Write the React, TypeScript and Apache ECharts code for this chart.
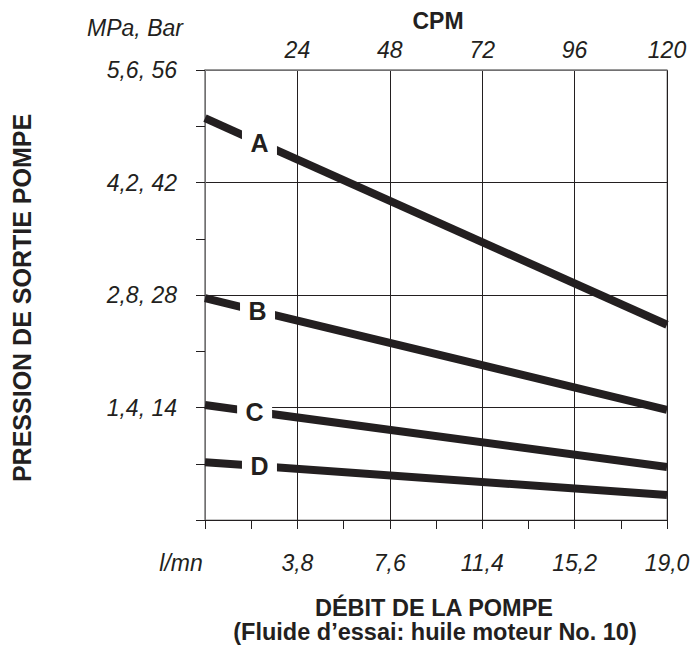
import React, { useEffect, useRef } from "react";
import * as echarts from "echarts";

// Data
const curveNames = ["A", "B", "C", "D"];
const flowRange = [0, 19.0]; // l/mn
const pressureStart = [5.0, 2.76, 1.43, 0.72]; // MPa at 0 l/mn
const pressureEnd = [2.43, 1.37, 0.66, 0.31]; // MPa at 19 l/mn
const labelFlow = [2.24, 2.16, 2.04, 2.24]; // where each letter sits on its curve
const yTickLabels: Record<string, string> = {
  "1.4": "1,4, 14",
  "2.8": "2,8, 28",
  "4.2": "4,2, 42",
  "5.6": "5,6, 56",
};
const xTickLabels: Record<string, string> = {
  "3.8": "3,8",
  "7.6": "7,6",
  "11.4": "11,4",
  "15.2": "15,2",
  "19": "19,0",
};
const cpmTicks = [24, 48, 72, 96, 120];

const FONT = "'Liberation Sans', Arial, Helvetica, sans-serif";
const INK = "#231f20";
const GRAY = "#8c8c8c";

export default function App() {
  const ref = useRef<HTMLDivElement>(null);
  useEffect(() => {
    if (!ref.current) return;
    const chart = echarts.init(ref.current, null, { renderer: "svg" });
    const labelPad = [12, 8, 6, 10];
    const series: any[] = [];
    curveNames.forEach((name, i) => {
      series.push({
        type: "line",
        name,
        data: [
          [flowRange[0], pressureStart[i]],
          [flowRange[1], pressureEnd[i]],
        ],
        symbol: "none",
        lineStyle: { color: INK, width: 8, cap: "butt" },
        z: 3,
        silent: true,
      });
    });
    curveNames.forEach((name, i) => {
      const x = labelFlow[i];
      const y =
        pressureStart[i] +
        ((pressureEnd[i] - pressureStart[i]) * (x - flowRange[0])) /
          (flowRange[1] - flowRange[0]);
      series.push({
        type: "scatter",
        data: [[x, y]],
        symbolSize: 1,
        itemStyle: { color: "#ffffff", opacity: 1 },
        z: 5,
        silent: true,
        emphasis: { disabled: true },
        label: {
          show: true,
          position: "inside",
          formatter: name,
          color: INK,
          opacity: 1,
          textBorderWidth: 0,
          fontFamily: FONT,
          fontWeight: "bold",
          fontSize: 25,
          lineHeight: 22,
          width: 35,
          align: "center",
          backgroundColor: "#ffffff",
          padding: [0, 0, labelPad[i], 0],
        },
      });
    });

    chart.setOption({
      animation: false,
      grid: {
        left: 205,
        right: 26,
        top: 70,
        bottom: 128,
        show: true,
        borderColor: GRAY,
        borderWidth: 1,
        backgroundColor: "transparent",
      },
      xAxis: [
        {
          type: "value",
          min: 0,
          max: 19,
          interval: 3.8,
          position: "bottom",
          axisLine: { show: true, onZero: false, lineStyle: { color: INK, width: 1 } },
          axisTick: { show: true, length: 9, lineStyle: { color: INK } },
          minorTick: { show: true, splitNumber: 2, length: 9, lineStyle: { color: INK } },
          splitLine: { show: true, lineStyle: { color: INK, width: 1 } },
          axisLabel: {
            margin: 31,
            color: INK,
            fontFamily: FONT,
            fontStyle: "italic",
            fontSize: 23,
            formatter: (v: number) => xTickLabels[String(Math.round(v * 10) / 10)] || "",
          },
        },
        {
          type: "value",
          min: 0,
          max: 120,
          interval: 24,
          position: "top",
          axisLine: { show: true, onZero: false, lineStyle: { color: GRAY, width: 1.5 } },
          axisTick: { show: false },
          splitLine: { show: false },
          axisLabel: {
            margin: 9,
            color: INK,
            fontFamily: FONT,
            fontStyle: "italic",
            fontSize: 23,
            formatter: (v: number) => (cpmTicks.includes(Math.round(v)) ? String(Math.round(v)) : ""),
          },
        },
      ],
      yAxis: [
        {
          type: "value",
          min: 0,
          max: 5.6,
          interval: 1.4,
          axisLine: { show: true, onZero: false, lineStyle: { color: GRAY, width: 1.5 } },
          axisTick: { show: true, length: 9, lineStyle: { color: INK } },
          minorTick: { show: true, splitNumber: 2, length: 9, lineStyle: { color: INK } },
          splitLine: { show: true, lineStyle: { color: INK, width: 1 } },
          axisLabel: {
            margin: 28,
            color: INK,
            fontFamily: FONT,
            fontStyle: "italic",
            fontSize: 23,
            formatter: (v: number) => yTickLabels[String(Math.round(v * 10) / 10)] || "",
          },
        },
      ],
      series,
      graphic: [
        {
          type: "text",
          x: 135,
          y: 28,
          style: {
            text: "MPa, Bar",
            fill: INK,
            font: `italic 23px ${FONT}`,
            align: "center",
            verticalAlign: "middle",
          },
        },
        {
          type: "text",
          x: 438,
          y: 21,
          style: {
            text: "CPM",
            fill: INK,
            font: `bold 23px ${FONT}`,
            align: "center",
            verticalAlign: "middle",
          },
        },
        {
          type: "text",
          x: 181,
          y: 563,
          style: {
            text: "l/mn",
            fill: INK,
            font: `italic 23px ${FONT}`,
            align: "center",
            verticalAlign: "middle",
          },
        },
        {
          type: "text",
          x: 434,
          y: 608,
          style: {
            text: "DÉBIT DE LA POMPE",
            fill: INK,
            font: `bold 23.5px ${FONT}`,
            align: "center",
            verticalAlign: "middle",
          },
        },
        {
          type: "text",
          x: 435,
          y: 632,
          style: {
            text: "(Fluide d’essai: huile moteur No. 10)",
            fill: INK,
            font: `bold 23.5px ${FONT}`,
            align: "center",
            verticalAlign: "middle",
          },
        },
        {
          type: "text",
          x: 22,
          y: 298,
          rotation: Math.PI / 2,
          style: {
            text: "PRESSION DE SORTIE POMPE",
            fill: INK,
            font: `bold 25px ${FONT}`,
            align: "center",
            verticalAlign: "middle",
          },
        },
      ],
    });
    return () => chart.dispose();
  }, []);
  return <div ref={ref} style={{ width: 693, height: 648, position: "absolute", left: 0, top: 0 }} />;
}
